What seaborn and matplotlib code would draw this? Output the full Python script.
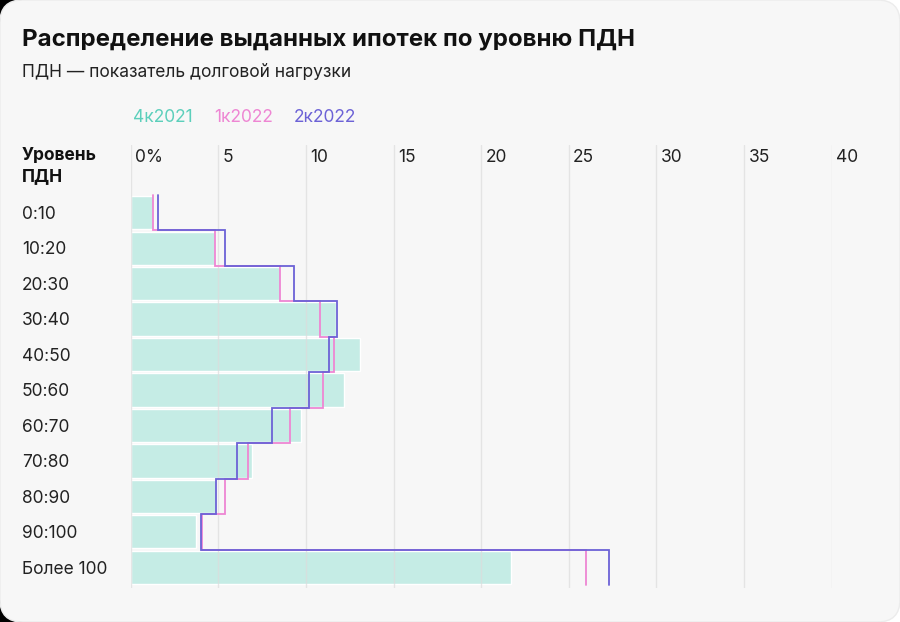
import numpy as np
import pandas as pd
import matplotlib
matplotlib.use("Agg")
import matplotlib.pyplot as plt
import matplotlib.transforms as mtransforms
from matplotlib.patches import FancyBboxPatch, Rectangle
import seaborn as sns

# data (share of mortgages, %)
levels = ["0:10", "10:20", "20:30", "30:40", "40:50", "50:60",
          "60:70", "70:80", "80:90", "90:100", "Более 100"]
q4_2021 = [1.3, 4.8, 8.5, 11.7, 13.1, 12.2, 9.75, 6.95, 4.85, 3.75, 21.7]
q1_2022 = [1.25, 4.8, 8.5, 10.8, 11.6, 11.0, 9.1, 6.7, 5.4, 4.05, 26.0]
q2_2022 = [1.55, 5.4, 9.3, 11.8, 11.3, 10.2, 8.05, 6.05, 4.9, 4.0, 27.3]
series_names = ["4к2021", "1к2022", "2к2022"]
xticks = [0, 5, 10, 15, 20, 25, 30, 35, 40]

teal_bar = "#c5ece5"
teal_txt = "#5ccfbb"
pink = "#ee86d3"
purple = "#6c62d6"
card = "#f7f7f7"

sns.set_style("white")
plt.rcParams['font.family'] = ['Inter', 'DejaVu Sans']

fig = plt.figure(figsize=(9, 6.22), dpi=100)
fig.patch.set_facecolor("white")
# black behind the left rounded corners
fig.patches.append(Rectangle((0, 0), 0.5, 1, transform=fig.transFigure,
                             facecolor="black", edgecolor="none", zorder=-2))
fig.patches.append(FancyBboxPatch((0, 0), 1, 1, transform=fig.transFigure,
                                  boxstyle="round,pad=0,rounding_size=0.025",
                                  mutation_aspect=900 / 622,
                                  facecolor=card, edgecolor="#ececec", lw=1, zorder=-1))

ax = fig.add_axes([130.6 / 900, 34 / 622, (831.7 - 130.6) / 900, 443 / 622])
ax.set_facecolor("none")

df = pd.DataFrame({"level": levels, "value": q4_2021})
sns.barplot(data=df, y="level", x="value", orient="h", color=teal_bar,
            width=0.94, saturation=1, ax=ax, zorder=1)

# step outlines for the 2022 quarters
pos = np.arange(len(levels))
for vals, col in [(q1_2022, pink), (q2_2022, purple)]:
    xs = np.repeat(vals, 2)
    ys = np.column_stack([pos - 0.5, pos + 0.5]).ravel()
    ax.plot(xs, ys, color=col, lw=1.3, zorder=3, solid_joinstyle="miter")

for t in xticks:
    ax.axvline(t, color="#dcdcdc", lw=1, zorder=2, alpha=0.7)

ax.set_xlim(0, 40)
ax.set_ylim(10.585, -1.91)
ax.set_xticks([])
ax.set_yticks([])
ax.set_xlabel("")
ax.set_ylabel("")
for s in ax.spines.values():
    s.set_visible(False)

# top tick labels
top = mtransforms.blended_transform_factory(ax.transData, fig.transFigure)
for t in xticks:
    lab = "0%" if t == 0 else str(t)
    ax.text(t + 0.25, 1 - 157 / 622, lab, transform=top, fontsize=12.5,
            color="#222222", ha="left", va="center")

# category labels on the left
left = mtransforms.blended_transform_factory(fig.transFigure, ax.transData)
for i, lab in enumerate(levels):
    ax.text(22 / 900, i + 0.05, lab, transform=left, fontsize=12.5, color="#222222",
            ha="left", va="center")

fig.text(22 / 900, 1 - 166 / 622, "Уровень\nПДН", fontsize=12.5, fontweight="bold",
         color="#111111", ha="left", va="center", linespacing=1.35)

fig.text(22 / 900, 1 - 40 / 622, "Распределение выданных ипотек по уровню ПДН",
         fontsize=17.3, fontweight="bold", color="#111111", ha="left", va="center")
fig.text(22 / 900, 1 - 73 / 622, "ПДН — показатель долговой нагрузки",
         fontsize=12.5, color="#222222", ha="left", va="center")

for name, col, x in zip(series_names, [teal_txt, pink, purple], [133, 214, 294]):
    fig.text(x / 900, 1 - 118 / 622, name, fontsize=12.5, color=col,
             ha="left", va="center")

fig.savefig("out.png", dpi=100, facecolor=fig.get_facecolor())
